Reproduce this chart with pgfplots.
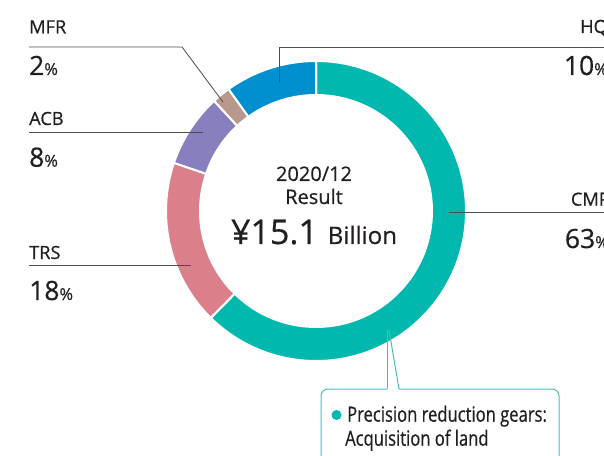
\documentclass[border=0pt]{standalone}
\usepackage{pgfplots}
\pgfplotsset{compat=1.18}
\usepackage{fontspec}
\setmainfont{Open Sans}[FakeBold=0.6]
\newfontfamily\condfont{Open Sans}[FakeStretch=0.79, FakeBold=0.6]
\definecolor{cmp}{HTML}{00B8AD}
\definecolor{trs}{HTML}{DB7F8B}
\definecolor{acb}{HTML}{8880BE}
\definecolor{mfr}{HTML}{B8988D}
\definecolor{hq}{HTML}{0090D0}
\definecolor{txt}{HTML}{231F20}
\definecolor{ln}{HTML}{4D4D4D}
\definecolor{cl}{HTML}{45C1B8}
% shares (%) in clockwise order from the top
\def\vCMP{63}
\def\vTRS{18}
\def\vACB{8}
\def\vMFR{2}
\def\vHQ{10}
\pgfmathsetmacro\tot{\vCMP+\vTRS+\vACB+\vMFR+\vHQ}
\pgfmathsetmacro\unit{360/\tot}
\pgfmathsetmacro\aA{90}
\pgfmathsetmacro\aB{\aA-\unit*\vCMP}
\pgfmathsetmacro\aC{\aB-\unit*\vTRS}
\pgfmathsetmacro\aD{\aC-\unit*\vACB}
\pgfmathsetmacro\aE{\aD-\unit*\vMFR}
\pgfmathsetmacro\aF{\aE-\unit*\vHQ}
\newcommand\sector[3]{\fill[#3, draw=white, line width=2pt, shift={(axis cs:316,244)}]
  (#1:150pt) arc[start angle=#1, end angle=#2, radius=150pt] -- (#2:116pt)
  arc[start angle=#2, end angle=#1, radius=116pt] -- cycle;}
\newcommand\lab{\fontsize{18.2}{20}\selectfont}
\newcommand\bignum{\fontsize{26.5}{28}\selectfont}
\newcommand\pct{\fontsize{16.5}{18}\selectfont}
\begin{document}
\begin{tikzpicture}
\useasboundingbox (0,0) rectangle (604pt,455pt);
\clip (0,0) rectangle (604pt,455pt);
\begin{axis}[at={(0,0)}, anchor=south west, width=604pt, height=455pt,
  scale only axis, xmin=0, xmax=604, ymin=0, ymax=455, hide axis, clip=false]
\sector{\aA}{\aB}{cmp}
\sector{\aB}{\aC}{trs}
\sector{\aC}{\aD}{acb}
\sector{\aD}{\aE}{mfr}
\sector{\aE}{\aF}{hq}
% leader lines
\draw[ln, line width=0.8pt] (axis cs:29,408) -- (axis cs:182,408) -- (axis cs:223,353);
\draw[ln, line width=0.8pt] (axis cs:29,322.7) -- (axis cs:203,322.7);
\draw[ln, line width=0.8pt] (axis cs:29,189.3) -- (axis cs:191,189.3);
\draw[ln, line width=0.8pt] (axis cs:279,373) -- (axis cs:279,408) -- (axis cs:610,408);
\draw[ln, line width=0.8pt] (axis cs:449,242.7) -- (axis cs:610,242.7);
% labels
\begin{scope}[every node/.style={inner sep=0pt, text=txt}]
\node[anchor=base west] at (axis cs:29,421.7) {\lab MFR};
\node[anchor=base west] at (axis cs:29,380) {{\bignum 2}{\pct\%}};
\node[anchor=base west] at (axis cs:29,330) {\lab ACB};
\node[anchor=base west] at (axis cs:29,288.3) {{\bignum 8}{\pct\%}};
\node[anchor=base west] at (axis cs:29,196) {\lab TRS};
\node[anchor=base west] at (axis cs:29,155) {{\bignum 18}{\pct\%}};
\node[anchor=base east] at (axis cs:608,422) {\lab HQ};
\node[anchor=base east] at (axis cs:608,380) {{\bignum 10}{\pct\%}};
\node[anchor=base east] at (axis cs:610,249.3) {\lab CMP};
\node[anchor=base east] at (axis cs:609,207) {{\bignum 63}{\pct\%}};
\node[anchor=base] at (axis cs:314,274) {\fontsize{20}{22}\selectfont 2020/12};
\node[anchor=base] at (axis cs:314,251) {\fontsize{20}{22}\selectfont Result};
\node[anchor=base] at (axis cs:314,211) {{\fontsize{34}{34}\selectfont ¥15.1}\hspace{10pt}{\fontsize{24}{26}\selectfont Billion}};
\end{scope}
% callout
\draw[cl, line width=1pt] (axis cs:387,125) -- (axis cs:387,66);
\draw[cl, line width=1pt] (axis cs:389,125) -- (axis cs:399,66);
\draw[cl, line width=1pt, rounded corners=7pt] (axis cs:387,66) -- (axis cs:321,66) -- (axis cs:321,-20);
\draw[cl, line width=1pt, rounded corners=7pt] (axis cs:399,66) -- (axis cs:559,66) -- (axis cs:559,-20);
\fill[cmp] (axis cs:336.5,40) circle[radius=5pt];
\node[anchor=base west, inner sep=0pt, text=txt] at (axis cs:347,33.3) {\condfont\fontsize{21}{24}\selectfont Precision reduction gears:};
\node[anchor=base west, inner sep=0pt, text=txt] at (axis cs:345,9.3) {\condfont\fontsize{21}{24}\selectfont Acquisition of land};
\end{axis}
\end{tikzpicture}
\end{document}
